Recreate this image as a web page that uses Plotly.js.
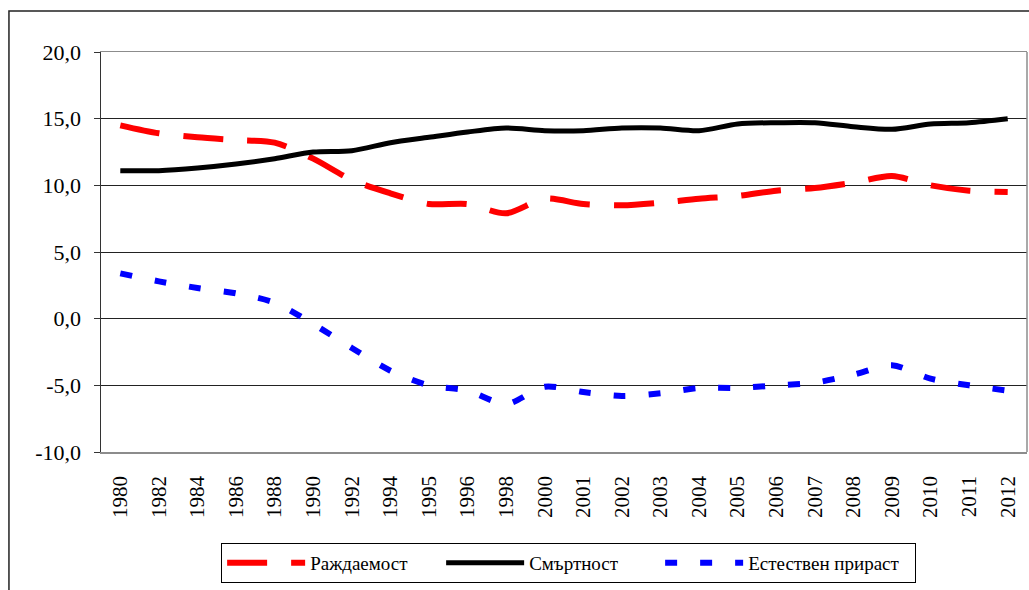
<!DOCTYPE html>
<html>
<head>
<meta charset="utf-8">
<script src="https://cdn.plot.ly/plotly-3.0.1.min.js"></script>
<style>
html,body{margin:0;padding:0;background:#fff;}
#chart{width:1029px;height:590px;}
</style>
</head>
<body>
<div id="chart"></div>
<script>
const years = ['1980','1982','1984','1986','1988','1990','1992','1994','1995','1996','1998','2000','2001','2002','2003','2004','2005','2006','2007','2008','2009','2010','2011','2012'];
const birthRate = [14.5,13.9,13.6,13.4,13.2,12.0,10.4,9.4,8.6,8.6,7.9,9.0,8.6,8.5,8.7,9.0,9.2,9.6,9.8,10.2,10.7,10.0,9.6,9.5];
const deathRate = [11.1,11.1,11.3,11.6,12.0,12.5,12.6,13.2,13.6,14.0,14.3,14.1,14.1,14.3,14.3,14.1,14.6,14.7,14.7,14.4,14.2,14.6,14.7,15.0];
const naturalGrowth = [3.4,2.8,2.3,1.9,1.2,-0.4,-2.2,-3.9,-5.0,-5.4,-6.4,-5.1,-5.5,-5.8,-5.6,-5.2,-5.2,-5.0,-4.8,-4.2,-3.5,-4.5,-5.0,-5.4];
const seriesNames = ['Раждаемост','Смъртност','Естествен прираст'];
const yTickVals = [-10,-5,0,5,10,15,20];
const yTickText = ['-10,0','-5,0','0,0','5,0','10,0','15,0','20,0'];

const serif = 'Times New Roman, Liberation Serif, DejaVu Serif, serif';

const traces = [
  {x: years, y: birthRate, name: seriesNames[0], type: 'scatter', mode: 'lines',
   line: {color: '#ff0000', width: 6, dash: '40px,24px', shape: 'spline', smoothing: 0.8}},
  {x: years, y: deathRate, name: seriesNames[1], type: 'scatter', mode: 'lines',
   line: {color: '#000000', width: 5, shape: 'spline', smoothing: 0.8}},
  {x: years, y: naturalGrowth, name: seriesNames[2], type: 'scatter', mode: 'lines', legendwidth: 162,
   line: {color: '#0000ff', width: 6, dash: '12px,23px', shape: 'spline', smoothing: 0.8}}
];

const layout = {
  width: 1029, height: 590,
  margin: {l: 101, r: 2, t: 52, b: 138},
  paper_bgcolor: '#ffffff', plot_bgcolor: '#ffffff',
  font: {family: serif, color: '#000', size: 22},
  showlegend: true,
  legend: {
    orientation: 'h', x: 0.505, xanchor: 'center', y: -0.2275, yanchor: 'top',
    bordercolor: '#000', borderwidth: 1, bgcolor: '#fff',
    font: {family: serif, size: 19, color: '#000'},
    itemwidth: 78, entrywidth: 126, entrywidthmode: 'pixels'
  },
  xaxis: {
    type: 'category', range: [-0.5, 23.5], tickangle: -90, showgrid: false, zeroline: false,
    showline: true, linecolor: '#8c8c8c', linewidth: 1.5, mirror: true,
    ticks: '', ticklabelstandoff: 14,
    tickfont: {family: serif, size: 21, color: '#000'}
  },
  yaxis: {
    range: [-10, 20], tickvals: yTickVals, ticktext: yTickText,
    showgrid: true, gridcolor: '#222', gridwidth: 1, zeroline: false,
    showline: true, linecolor: '#333', linewidth: 1.5,
    ticks: 'outside', ticklen: 6, tickcolor: '#333', tickwidth: 1,
    ticklabelstandoff: 8,
    tickfont: {family: serif, size: 22, color: '#000'}
  },
  shapes: [
    {type: 'line', xref: 'paper', yref: 'paper', x0: 1, x1: 1, y0: 0, y1: 1,
     line: {color: '#8c8c8c', width: 1.5}},
    {type: 'rect', xref: 'paper', yref: 'paper', x0: -0.0994, x1: 1.02, y0: -0.4, y1: 1.1025,
     line: {color: '#222', width: 1.5}, fillcolor: 'rgba(0,0,0,0)', layer: 'below'}
  ]
};

Plotly.newPlot('chart', traces, layout, {displayModeBar: false, staticPlot: true});
</script>
</body>
</html>
